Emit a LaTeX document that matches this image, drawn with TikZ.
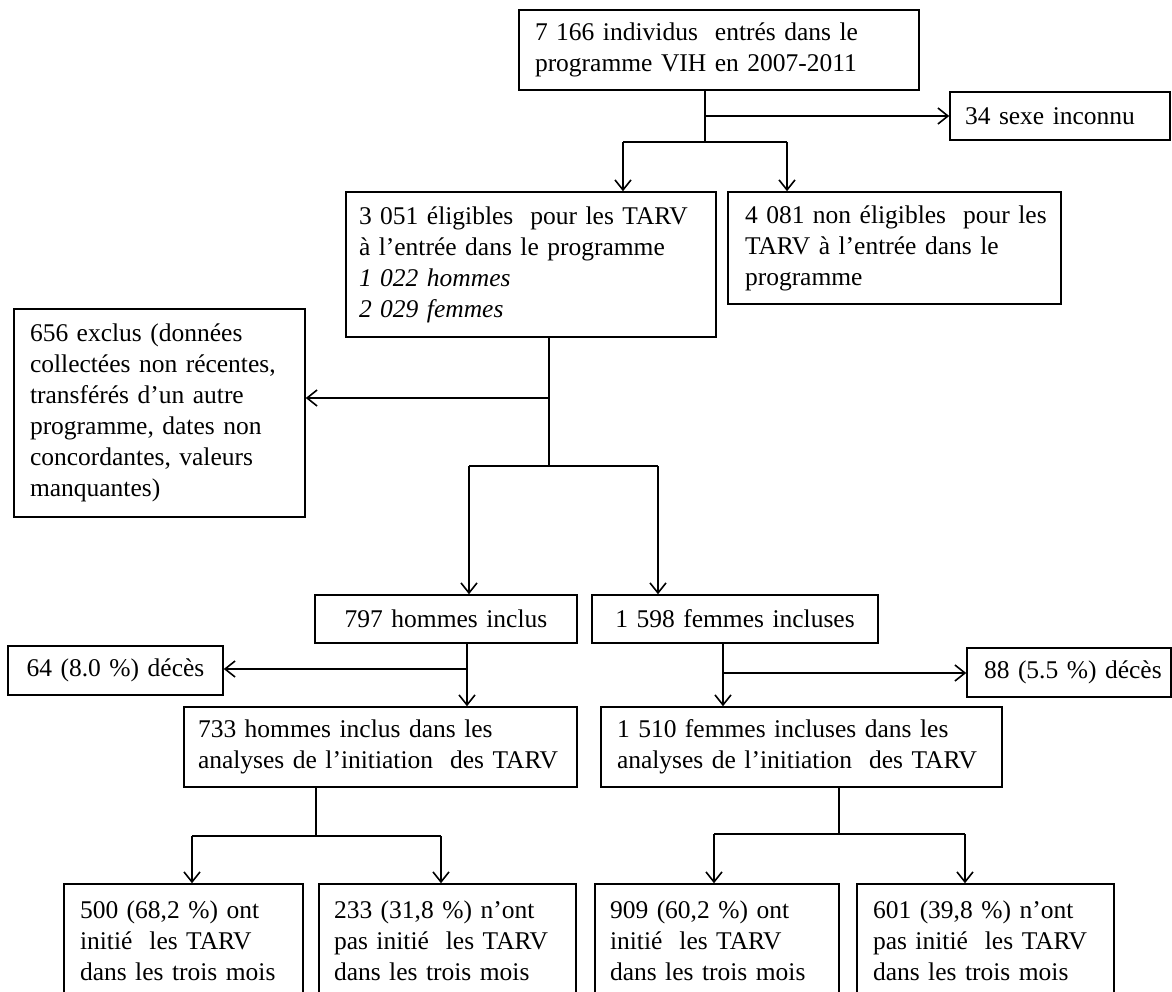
\documentclass[tikz,border=0pt]{standalone}
\usepackage{fontspec}
\setmainfont{Liberation Serif}
\usetikzlibrary{arrows.meta}
\newcommand{\ml}[1]{\mbox{#1}}
\begin{document}
\begin{tikzpicture}[x=1pt,y=-1pt,
  box/.style={draw=black, line width=1.6pt, rectangle, inner ysep=0pt, align=left,
    font=\fontsize{25.5}{31}\selectfont},
  cbox/.style={box, align=center},
  conn/.style={line width=1.6pt, draw=black},
  arr/.style={conn, -{Straight Barb[length=10pt,width=16pt,line width=1.6pt]}}]
\fill[white] (0,0) rectangle (1172,992);
\useasboundingbox (0,0) rectangle (1172,992);

% boxes: minimum width = W, text width = W - 2m, inner xsep = m
\node[box, minimum width=400pt, minimum height=80pt, text width=368pt, inner xsep=16pt] (top) at (719,50)
  {\ml{7 166 individus\ \ entrés dans le}\\\ml{programme VIH en 2007-2011}};
\node[box, minimum width=220pt, minimum height=48pt, text width=190pt, inner xsep=15pt] (sexe) at (1060,116)
  {\ml{34 sexe inconnu}};
\node[box, minimum width=370pt, minimum height=145pt, text width=344pt, inner xsep=13pt] (elig) at (531,264.5)
  {\ml{3 051 éligibles\ \ pour les TARV}\\\ml{à l’entrée dans le programme}\\\textit{1 022 hommes}\\\textit{2 029 femmes}};
\node[box, minimum width=333pt, minimum height=112pt, text width=299pt, inner xsep=17pt] (nonelig) at (894.5,248)
  {\ml{4 081 non éligibles\ \ pour les}\\\ml{TARV à l’entrée dans le}\\programme};
\node[box, minimum width=291pt, minimum height=208pt, text width=259pt, inner xsep=16pt] (excl) at (159.5,413)
  {\ml{656 exclus (données}\\\ml{collectées non récentes,}\\\ml{transférés d’un autre}\\\ml{programme, dates non}\\\ml{concordantes, valeurs}\\manquantes)};
\node[cbox, minimum width=262pt, minimum height=48pt, text width=230pt, inner xsep=16pt] (hom) at (446,619)
  {\ml{797 hommes inclus}};
\node[cbox, minimum width=286pt, minimum height=48pt, text width=254pt, inner xsep=16pt] (fem) at (735,619)
  {\ml{1 598 femmes incluses}};
\node[cbox, minimum width=215pt, minimum height=49pt, text width=185pt, inner xsep=15pt] (d64) at (115.5,670.5)
  {\ml{64 (8.0 \%) décès}};
\node[box, minimum width=204pt, minimum height=49pt, text width=170pt, inner xsep=17pt] (d88) at (1069,672.5)
  {\ml{88 (5.5 \%) décès}};
\node[box, minimum width=393pt, minimum height=80pt, text width=365pt, inner xsep=14pt] (h733) at (380.5,747)
  {\ml{733 hommes inclus dans les}\\\ml{analyses de l’initiation\ \ des TARV}};
\node[box, minimum width=401pt, minimum height=80pt, text width=369pt, inner xsep=16pt] (f1510) at (801.5,747)
  {\ml{1 510 femmes incluses dans les}\\\ml{analyses de l’initiation\ \ des TARV}};
\node[box, minimum width=239pt, minimum height=114pt, text width=207pt, inner xsep=16pt] (b500) at (183.5,941)
  {\ml{500 (68,2 \%) ont}\\\ml{initié\ \ les TARV}\\\ml{dans les trois mois}};
\node[box, minimum width=257pt, minimum height=114pt, text width=227pt, inner xsep=15pt] (b233) at (447.5,941)
  {\ml{233 (31,8 \%) n’ont}\\\ml{pas initié\ \ les TARV}\\\ml{dans les trois mois}};
\node[box, minimum width=244pt, minimum height=114pt, text width=214pt, inner xsep=15pt] (b909) at (717,941)
  {\ml{909 (60,2 \%) ont}\\\ml{initié\ \ les TARV}\\\ml{dans les trois mois}};
\node[box, minimum width=257pt, minimum height=114pt, text width=225pt, inner xsep=16pt] (b601) at (985.5,941)
  {\ml{601 (39,8 \%) n’ont}\\\ml{pas initié\ \ les TARV}\\\ml{dans les trois mois}};

% junction coordinates
\coordinate (j1) at (705,116);
\coordinate (j2) at (705,142);
\coordinate (l1) at (623,142);
\coordinate (r1) at (787,142);
\coordinate (j3) at (549,398);
\coordinate (j4) at (549,466);
\coordinate (l2) at (469,466);
\coordinate (r2) at (658,466);
\coordinate (j5) at (467,669);
\coordinate (j6) at (723,673);
\coordinate (j7) at (316,836);
\coordinate (l3) at (192,836);
\coordinate (r3) at (441,836);
\coordinate (j8) at (839,834);
\coordinate (l4) at (714,834);
\coordinate (r4) at (965,834);

% connectors
\draw[conn] (top.south -| j1) -- (j2);
\draw[arr] (j1) -- (sexe.west);
\draw[conn] (l1) -- (r1);
\draw[arr] (l1) -- (elig.north -| l1);
\draw[arr] (r1) -- (nonelig.north -| r1);

\draw[conn] (elig.south -| j3) -- (j4);
\draw[arr] (j3) -- (excl.east |- j3);
\draw[conn] (l2) -- (r2);
\draw[arr] (l2) -- (hom.north -| l2);
\draw[arr] (r2) -- (fem.north -| r2);

\draw[arr] (hom.south -| j5) -- (h733.north -| j5);
\draw[arr] (j5) -- (d64.east |- j5);
\draw[arr] (fem.south -| j6) -- (f1510.north -| j6);
\draw[arr] (j6) -- (d88.west |- j6);

\draw[conn] (h733.south -| j7) -- (j7);
\draw[conn] (l3) -- (r3);
\draw[arr] (l3) -- (b500.north -| l3);
\draw[arr] (r3) -- (b233.north -| r3);

\draw[conn] (f1510.south -| j8) -- (j8);
\draw[conn] (l4) -- (r4);
\draw[arr] (l4) -- (b909.north -| l4);
\draw[arr] (r4) -- (b601.north -| r4);
\end{tikzpicture}
\end{document}
